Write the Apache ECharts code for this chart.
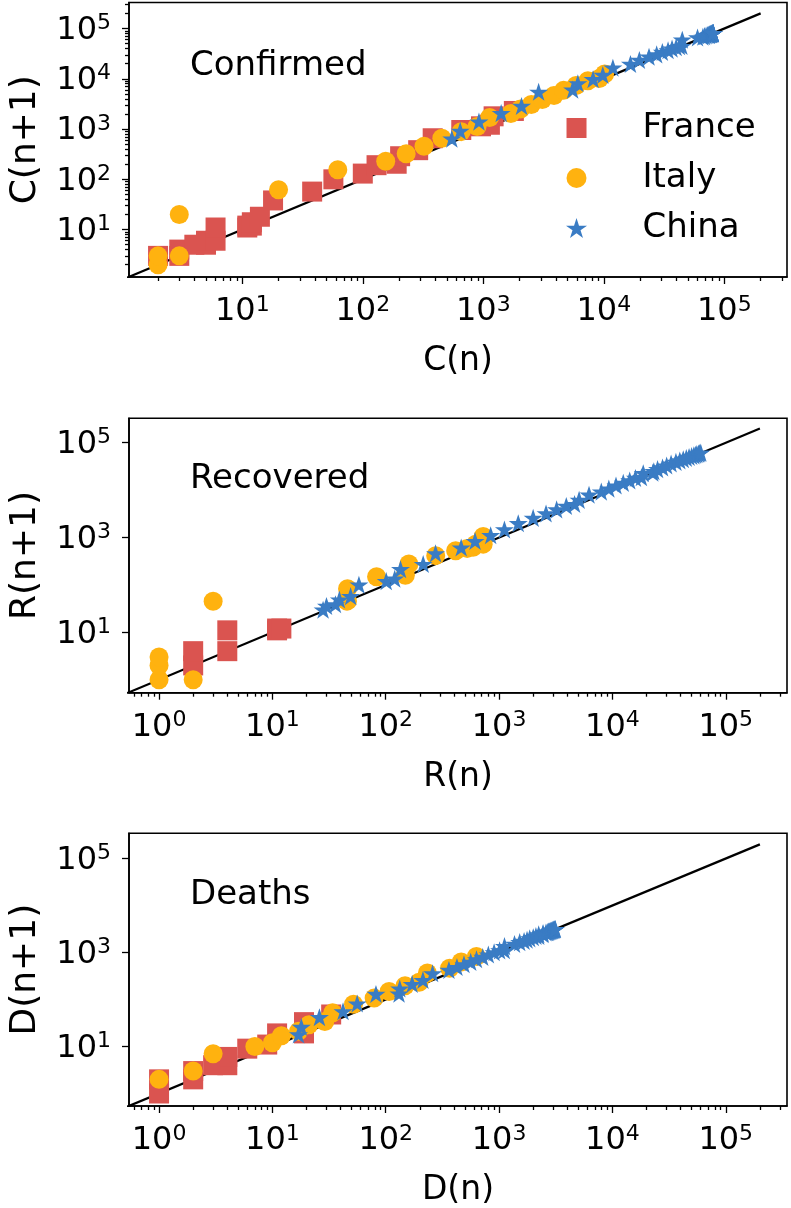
<!DOCTYPE html>
<html><head><meta charset="utf-8">
<script src="https://cdn.jsdelivr.net/npm/echarts@6/dist/echarts.min.js"></script>
<style>html,body{margin:0;padding:0;background:#fff}#c{width:791px;height:1208px}</style>
</head><body><div id="c"></div>
<script>
// ---- data: cumulative daily counts (each point is [value(n), value(n+1)]) ----
const franceConfirmed = [2,3,3,4,5,5,6,6,11,11,12,12,14,18,38,57,100,130,191,204,288,380,656,957,1134,1217,1792,2289];
const italyConfirmed = [2,2,3,3,20,62,155,229,322,453,655,888,1128,1694,2036,2502,3089,3858,4636,5883,7375,9172,10149,12462];
const chinaConfirmed = [548,643,920,1406,2075,2877,5509,6087,8141,9802,11891,16630,19716,23707,27440,30587,34110,36814,39829,42354,44386,44759,59895,66358,68413,70513,72434,74211,74619,75077,75550,77001,77022,77241,77754,78166,78600,78928,79356,79932,80136,80261,80386,80537,80690,80770,80823,80860,80887,80921];

const franceRecovered = [2,2,4,4,11,11,12,12];
const italyRecovered = [1,1,2,1,3,45,46,46,83,149,160,276,414,523,589,622,724,724,1045];
const chinaRecovered = [28,30,36,39,49,58,101,120,135,214,275,463,614,843,1115,1476,1998,2596,3219,3918,4636,5082,6217,7977,9298,10755,12462,14206,15962,18014,18704,22699,23187,25015,27676,30084,32930,36329,39320,42162,44854,47450,50001,52292,53944,55539,57388,58804,60181,61644];

const franceDeaths = [1,1,2,2,3,4,4,6,9,11,19,19,33,48];
const italyDeaths = [1,2,3,7,10,12,17,21,29,34,52,79,107,148,197,233,366,463,631,827];
const chinaDeaths = [17,18,26,42,56,82,131,133,171,213,259,361,425,490,562,632,717,804,904,1011,1111,1116,1368,1520,1662,1765,1863,2002,2114,2236,2236,2441,2443,2593,2663,2715,2744,2788,2835,2870,2912,2945,2981,3013,3042,3070,3097,3120,3136,3158];

const countries = ['France','Italy','China'];
const panelTitles = ['Confirmed','Recovered','Deaths'];
const xNames = ['C(n)','R(n)','D(n)'];
const yNames = ['C(n+1)','R(n+1)','D(n+1)'];
const panelData = [
  [franceConfirmed, italyConfirmed, chinaConfirmed],
  [franceRecovered, italyRecovered, chinaRecovered],
  [franceDeaths, italyDeaths, chinaDeaths]
];
const refLine = [0.3, 200000];            // y = x reference line end values
const xExtents = [[1.148, 331000],[0.543, 347000],[0.543, 347000]];
const yExtents = [[1.14, 329000],[0.532, 327000],[0.542, 344000]];
const xMajor = [[10,100,1000,10000,100000],[1,10,100,1000,10000,100000],[1,10,100,1000,10000,100000]];
const yMajor = [[10,100,1000,10000,100000],[10,1000,100000],[10,1000,100000]];
const yHasMinor = [true,false,false];

// ---- styling ----
const FONT = 'DejaVu Sans';
const colors = ['#da5450','#ffb20f','#3a7cc4'];
const grids = [
  {left:124.5, top:2.5, width:662.5, height:274.5},
  {left:124.5, top:418.3, width:662.5, height:274.4},
  {left:124.5, top:833.3, width:662.5, height:275}
];
const titleTops = [49, 462, 878];

function starPath(){
  let s = 'path://';
  for (let i = 0; i < 10; i++) {
    const a = -Math.PI/2 + i*Math.PI/5;
    const r = (i % 2 === 0) ? 1 : 0.382;
    s += (i === 0 ? 'M' : 'L') + (r*Math.cos(a)).toFixed(4) + ',' + (r*Math.sin(a)).toFixed(4);
  }
  return s + 'Z';
}
const STAR = starPath();
const SQUARE = 'path://M0,0L10,0L10,10L0,10Z';
const symbols = ['rect','circle',STAR];
const symbolSizes = [20,19,19];

function minorValues(ext){
  const out = [];
  for (let e = -2; e <= 6; e++) for (let m = 2; m <= 9; m++) {
    const v = m * Math.pow(10, e);
    if (v >= ext[0] && v <= ext[1]) out.push(v);
  }
  return out;
}
function pairs(arr){
  const out = [];
  for (let i = 0; i + 1 < arr.length; i++) out.push([arr[i], arr[i+1]]);
  return out;
}
const richLabel = {
  b: {fontSize: 32, fontFamily: FONT, color: '#000', lineHeight: 32, padding: [4,0,0,0]},
  s: {fontSize: 22, fontFamily: FONT, color: '#000', lineHeight: 22, verticalAlign: 'top'}
};
function fmt(v){ return '{b|10}{s|' + Math.round(Math.log10(v)) + '}'; }
const lineW = 1.6, tickW = 1.3;

const option = {
  animation: false,
  backgroundColor: '#fff',
  grid: grids.map(g => Object.assign({show:true, borderColor:'#000', borderWidth:lineW, backgroundColor:'transparent', containLabel:false}, g)),
  title: panelTitles.map((t,i) => ({text:t, left:190, top:titleTops[i], padding:0,
    textStyle:{fontSize:34, fontWeight:'normal', fontFamily:FONT, color:'#000'}})),
  legend: {
    orient:'vertical', left:561, top:106, itemWidth:122, itemHeight:20, itemGap:16,
    selectedMode:false,
    data:[{name:'France', icon:SQUARE},{name:'Italy', icon:'circle'},{name:'China', icon:STAR}],
    textStyle:{fontSize:34, fontFamily:FONT, color:'#000', lineHeight:34}
  },
  xAxis: [], yAxis: [], series: []
};

for (let p = 0; p < 3; p++) {
  const xm = xMajor[p], ym = yMajor[p];
  option.xAxis.push({
    type:'log', logBase:10, gridIndex:p, position:'bottom', min:xExtents[p][0], max:xExtents[p][1],
    name:xNames[p], nameLocation:'middle', nameGap:68,
    nameTextStyle:{fontSize:33, fontFamily:FONT, color:'#000'},
    axisLine:{show:true, onZero:false, lineStyle:{color:'#000', width:lineW}},
    axisTick:{show:true, customValues:xm, length:7, lineStyle:{color:'#000', width:tickW}},
    axisLabel:{show:true, customValues:xm, formatter:fmt, rich:richLabel, margin:17},
    splitLine:{show:false}, minorTick:{show:false}
  });
  option.xAxis.push({
    type:'log', logBase:10, gridIndex:p, position:'bottom', min:xExtents[p][0], max:xExtents[p][1],
    axisLine:{show:false, onZero:false},
    axisTick:{show:true, customValues:minorValues(xExtents[p]), length:4, lineStyle:{color:'#000', width:tickW}},
    axisLabel:{show:false}, splitLine:{show:false}
  });
  option.yAxis.push({
    type:'log', logBase:10, gridIndex:p, position:'left', min:yExtents[p][0], max:yExtents[p][1],
    name:yNames[p], nameLocation:'middle', nameRotate:90, nameGap:85,
    nameTextStyle:{fontSize:36, fontFamily:FONT, color:'#000'},
    axisLine:{show:true, onZero:false, lineStyle:{color:'#000', width:lineW}},
    axisTick:{show:true, customValues:ym, length:7, lineStyle:{color:'#000', width:tickW}},
    axisLabel:{show:true, customValues:ym, formatter:fmt, rich:richLabel, margin:18},
    splitLine:{show:false}, minorTick:{show:false}
  });
  option.yAxis.push({
    type:'log', logBase:10, gridIndex:p, position:'left', min:yExtents[p][0], max:yExtents[p][1],
    axisLine:{show:false, onZero:false},
    axisTick:{show:yHasMinor[p], customValues:yHasMinor[p] ? minorValues(yExtents[p]) : [], length:4, lineStyle:{color:'#000', width:tickW}},
    axisLabel:{show:false}, splitLine:{show:false}
  });
  option.series.push({
    type:'line', xAxisIndex:2*p, yAxisIndex:2*p, data:[[refLine[0],refLine[0]],[refLine[1],refLine[1]]],
    showSymbol:false, symbol:'none', lineStyle:{color:'#000', width:2.2}, silent:true, clip:true, z:1
  });
  for (let c = 0; c < 3; c++) {
    option.series.push({
      type:'scatter', name:countries[c], xAxisIndex:2*p, yAxisIndex:2*p,
      data:pairs(panelData[p][c]), symbol:symbols[c], symbolSize:symbolSizes[c], symbolKeepAspect:true,
      itemStyle:{color:colors[c], opacity:1}, z:2+c, clip:true
    });
  }
}
const chart = echarts.init(document.getElementById('c'), null, {renderer:'canvas'});
chart.setOption(option);
</script></body></html>
